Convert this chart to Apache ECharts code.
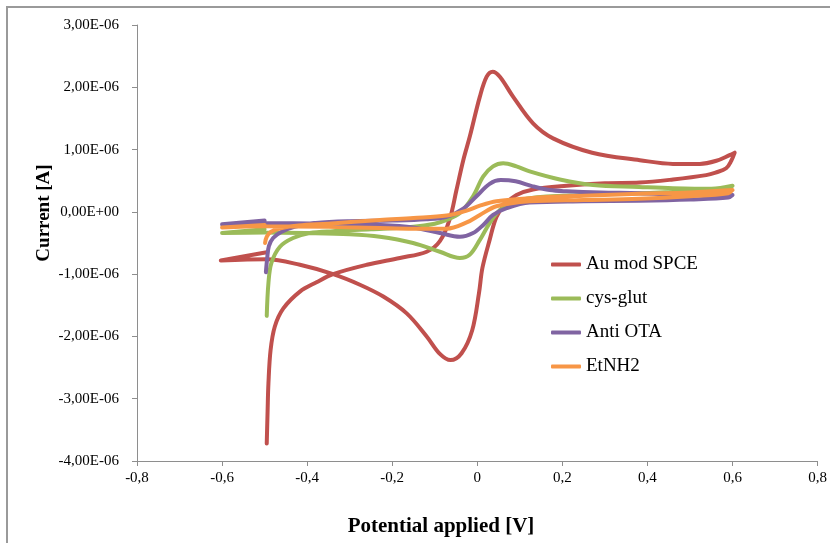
<!DOCTYPE html>
<html>
<head>
<meta charset="utf-8">
<script src="https://cdn.jsdelivr.net/npm/echarts@6/dist/echarts.min.js"></script>
<style>
html,body{margin:0;padding:0;background:#fff;}
#chart{width:830px;height:543px;}
</style>
</head>
<body>
<div id="chart"></div>
<script>
// Potential [V], current [µA] (axis labels show amperes)
const seriesNames = ['Au mod SPCE', 'cys-glut', 'Anti OTA', 'EtNH2'];
const seriesColors = ['#C0504D', '#9BBB59', '#8064A2', '#F79646'];
const xTicks = [-0.8, 0.8, 0.2];
const yTicks = [-4, 3, 1];

const auMod = [
  [-0.495,-3.72],[-0.493,-3.2],[-0.491,-2.75],[-0.486,-2.22],[-0.476,-1.84],[-0.456,-1.55],
  [-0.417,-1.28],[-0.378,-1.13],[-0.339,-1.0],[-0.26,-0.85],[-0.182,-0.74],[-0.119,-0.64],
  [-0.088,-0.47],[-0.065,-0.12],[-0.049,0.35],[-0.033,0.83],[-0.018,1.2],[0.006,1.85],
  [0.022,2.17],[0.036,2.25],[0.053,2.17],[0.084,1.85],[0.131,1.42],[0.178,1.18],
  [0.27,0.95],[0.382,0.83],[0.46,0.77],[0.523,0.77],[0.562,0.82],[0.593,0.91],[0.605,0.95],
  [0.597,0.82],[0.585,0.70],[0.56,0.63],[0.538,0.59],[0.46,0.52],[0.382,0.47],[0.3,0.46],
  [0.21,0.42],[0.131,0.36],[0.092,0.27],[0.065,0.12],[0.045,-0.08],[0.029,-0.45],
  [0.012,-0.9],[0.004,-1.3],[-0.012,-1.9],[-0.037,-2.27],[-0.063,-2.38],[-0.088,-2.28],
  [-0.119,-2.0],[-0.166,-1.63],[-0.221,-1.36],[-0.276,-1.17],[-0.339,-1.0],[-0.417,-0.85],
  [-0.495,-0.76],[-0.603,-0.78],[-0.495,-0.65]
];
const cysGlut = [
  [-0.495,-1.67],[-0.491,-1.14],[-0.484,-0.82],[-0.464,-0.56],[-0.433,-0.42],[-0.394,-0.34],
  [-0.339,-0.31],[-0.25,-0.28],[-0.15,-0.24],[-0.1,-0.19],[-0.072,-0.13],[-0.041,-0.02],
  [-0.010,0.25],[0.014,0.57],[0.037,0.73],[0.061,0.78],[0.092,0.73],[0.123,0.65],
  [0.194,0.52],[0.272,0.43],[0.38,0.40],[0.46,0.38],[0.55,0.37],[0.6,0.42],
  [0.59,0.37],[0.5,0.33],[0.38,0.30],[0.25,0.27],[0.123,0.22],[0.084,0.14],[0.053,0.03],
  [0.029,-0.18],[0.006,-0.45],[-0.018,-0.69],[-0.041,-0.74],[-0.088,-0.64],[-0.151,-0.50],
  [-0.229,-0.40],[-0.3,-0.36],[-0.4,-0.34],[-0.5,-0.33],[-0.6,-0.34],[-0.5,-0.28]
];
const antiOTA = [
  [-0.497,-0.97],[-0.494,-0.75],[-0.49,-0.55],[-0.48,-0.42],[-0.46,-0.32],[-0.43,-0.24],
  [-0.38,-0.18],[-0.3,-0.15],[-0.2,-0.14],[-0.12,-0.12],[-0.072,-0.08],[-0.033,0.05],
  [-0.002,0.25],[0.029,0.45],[0.055,0.51],[0.09,0.49],[0.13,0.41],[0.17,0.35],[0.21,0.33],
  [0.29,0.31],[0.38,0.30],[0.5,0.27],[0.6,0.27],
  [0.59,0.23],[0.5,0.20],[0.38,0.18],[0.25,0.17],[0.123,0.15],[0.069,0.06],[0.037,-0.05],
  [0.014,-0.21],[-0.010,-0.34],[-0.041,-0.40],[-0.088,-0.34],[-0.151,-0.25],[-0.229,-0.21],
  [-0.35,-0.19],[-0.5,-0.18],[-0.6,-0.20],[-0.5,-0.14]
];
const etNH2 = [
  [-0.499,-0.50],[-0.495,-0.40],[-0.485,-0.32],[-0.46,-0.26],[-0.42,-0.22],[-0.35,-0.19],
  [-0.229,-0.13],[-0.15,-0.10],[-0.072,-0.06],[-0.025,0.02],[0.006,0.10],[0.045,0.17],
  [0.123,0.22],[0.25,0.26],[0.38,0.29],[0.5,0.31],[0.6,0.35],
  [0.59,0.30],[0.5,0.25],[0.38,0.21],[0.25,0.19],[0.123,0.17],[0.045,0.09],[0.006,-0.05],
  [-0.025,-0.17],[-0.072,-0.27],[-0.15,-0.27],[-0.229,-0.26],[-0.35,-0.24],[-0.5,-0.23],
  [-0.6,-0.25],[-0.5,-0.21]
];

const allData = [auMod, cysGlut, antiOTA, etNH2];

function fmtY(v){
  const a = v * 1e-6;
  if (Math.abs(a) < 1e-12) return '0,00E+00';
  const s = a.toExponential(2);
  const parts = s.split('e');
  let exp = parseInt(parts[1], 10);
  const sign = exp < 0 ? '-' : '+';
  exp = Math.abs(exp);
  return parts[0].replace('.', ',') + 'E' + sign + (exp < 10 ? '0' + exp : '' + exp);
}
function fmtX(v){
  const r = Math.round(v * 10) / 10;
  if (r === 0) return '0';
  return String(r).replace('.', ',');
}

const chart = echarts.init(document.getElementById('chart'), null, {renderer: 'canvas'});
const axisColor = '#8e8e8e';
const serif = '"Liberation Serif", "Times New Roman", serif';

chart.setOption({
  animation: false,
  backgroundColor: '#ffffff',
  grid: {left: 137, right: 12, top: 25, bottom: 82, containLabel: false},
  xAxis: {
    type: 'value', min: xTicks[0], max: xTicks[1], interval: xTicks[2],
    axisLine: {onZero: false, lineStyle: {color: axisColor, width: 1}},
    axisTick: {show: true, length: 5, inside: false, lineStyle: {color: axisColor}},
    splitLine: {show: false},
    axisLabel: {formatter: fmtX, color: '#000', fontFamily: serif, fontSize: 15, margin: 10}
  },
  yAxis: {
    type: 'value', min: yTicks[0], max: yTicks[1], interval: yTicks[2],
    axisLine: {show: true, onZero: false, lineStyle: {color: axisColor, width: 1}},
    axisTick: {show: true, length: 5, lineStyle: {color: axisColor}},
    splitLine: {show: false},
    axisLabel: {formatter: fmtY, color: '#000', fontFamily: serif, fontSize: 15, margin: 18}
  },
  legend: {
    orient: 'vertical', left: 546, top: 250,
    itemWidth: 30, itemHeight: 4, itemGap: 15,
    icon: 'roundRect',
    textStyle: {fontFamily: serif, fontSize: 19, color: '#000'},
    data: seriesNames
  },
  series: allData.map((d, i) => ({
    name: seriesNames[i],
    type: 'line',
    data: d,
    smooth: 0.35,
    showSymbol: false,
    symbol: 'none',
    color: seriesColors[i],
    lineStyle: {width: 4, color: seriesColors[i], cap: 'round', join: 'round'},
    z: 2 + i
  })),
  graphic: [
    {type: 'rect', shape: {x: 7, y: 7, width: 840, height: 600}, style: {fill: 'none', stroke: '#9a9a9a', lineWidth: 2}, silent: true, z: -1},
    {type: 'text', x: 44, y: 213, rotation: Math.PI / 2,
     style: {text: 'Current [A]', font: 'bold 19px ' + serif, fill: '#000', textAlign: 'center', textVerticalAlign: 'middle'}},
    {type: 'text', x: 441, y: 527,
     style: {text: 'Potential applied [V]', font: 'bold 21px ' + serif, fill: '#000', textAlign: 'center', textVerticalAlign: 'middle'}}
  ]
});
</script>
</body>
</html>
